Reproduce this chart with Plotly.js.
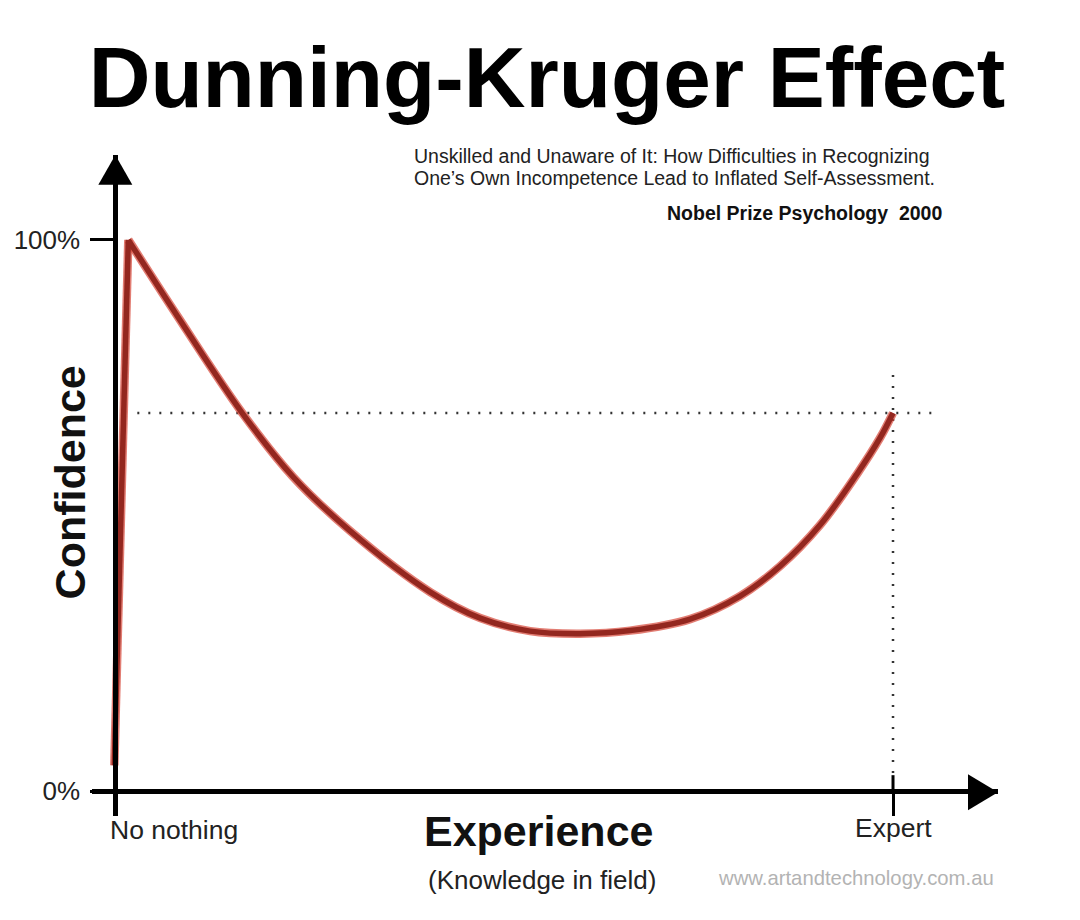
<!DOCTYPE html>
<html>
<head>
<meta charset="utf-8">
<script src="https://cdn.plot.ly/plotly-3.0.1.min.js"></script>
<style>html,body{margin:0;padding:0;background:#fff;}#chart{width:1080px;height:920px;}</style>
</head>
<body>
<div id="chart"></div>
<script>
// ---- data ----
const experience = [-0.13, 1.67, 7.97, 16.32, 22.88, 30.21, 40.49, 46.92, 53.34, 59.77, 66.2, 73.91, 80.33, 85.48, 90.62, 95.37, 98.33, 100];
const confidence = [4.7, 100, 86.21, 68.6, 56.99, 47.19, 36.12, 31.4, 29.04, 28.58, 29.13, 31.22, 35.39, 40.83, 48.28, 57.53, 64.07, 68.6];
const yTickVals = [0, 100];
const yTickText = ['0%', '100%'];
const xTickVals = [0, 100];
const xTickText = ['No nothing', 'Expert'];

// ---- layout geometry ----
const W = 1080, H = 920;
const xRange = [-3, 113.5], yRange = [-4.5, 115.4];
const pxX = 7.78, pxY = 5.51;
const L = 115 + xRange[0] * pxX;            // left edge of plot area
const PW = (xRange[1] - xRange[0]) * pxX;   // plot width
const B = 791 - yRange[0] * pxY;            // bottom edge of plot area
const PH = (yRange[1] - yRange[0]) * pxY;   // plot height
const T = B - PH;
const paperX = px => (px - L) / PW;
const paperY = py => (B - py) / PH;
const dataX = px => (px - 115) / pxX;
const dataY = py => (791 - py) / pxY;

const FONT = 'Liberation Sans, Arial, Helvetica, sans-serif';
const expertIdx = experience.length - 1;
const expertX = experience[expertIdx];
const expertY = confidence[expertIdx];

const leftX = experience.slice(0, 2), leftY = confidence.slice(0, 2);
const rightX = experience.slice(1), rightY = confidence.slice(1);

const halo = 'rgba(214,70,56,0.7)';
const core = '#93271f';

const traces = [
  {x: leftX, y: leftY, mode: 'lines', line: {color: halo, width: 8.5}, hoverinfo: 'skip'},
  {x: rightX, y: rightY, mode: 'lines', line: {color: halo, width: 8.5, shape: 'spline', smoothing: 1}, hoverinfo: 'skip'},
  {x: leftX, y: leftY, mode: 'lines', line: {color: core, width: 5.5}},
  {x: rightX, y: rightY, mode: 'lines', line: {color: core, width: 5.5, shape: 'spline', smoothing: 1}}
];

const shapes = [
  // horizontal dotted reference at expert confidence
  {type: 'line', xref: 'x', yref: 'y', x0: dataX(137), x1: dataX(933), y0: expertY, y1: expertY,
   line: {color: '#333', width: 2.5, dash: '2px,9px'}, layer: 'below'},
  // vertical dotted reference at expert
  {type: 'line', xref: 'x', yref: 'y', x0: expertX, x1: expertX, y0: dataY(375), y1: dataY(778),
   line: {color: '#333', width: 2.5, dash: '2px,9px'}, layer: 'below'},
  // upper part of the Expert tick
  {type: 'line', xref: 'x', yref: 'y', x0: expertX, x1: expertX, y0: dataY(775), y1: 0,
   line: {color: '#000', width: 3}},
  // y-axis arrowhead
  {type: 'path', xref: 'x', yref: 'y',
   path: `M ${dataX(98)} ${dataY(185)} L ${dataX(115)} ${yRange[1]} L ${dataX(132)} ${dataY(185)} Z`,
   fillcolor: '#000', line: {width: 0}},
  // x-axis arrowhead
  {type: 'path', xref: 'x', yref: 'y',
   path: `M ${dataX(968)} ${dataY(774)} L ${xRange[1]} ${dataY(792)} L ${dataX(968)} ${dataY(810)} Z`,
   fillcolor: '#000', line: {width: 0}}
];

const annotations = [
  {xref: 'paper', yref: 'paper', x: paperX(412), y: paperY(156), xanchor: 'left', yanchor: 'middle', align: 'left',
   showarrow: false, text: 'Unskilled and Unaware of It: How Difficulties in Recognizing',
   font: {family: FONT, size: 19.5, color: '#222'}},
  {xref: 'paper', yref: 'paper', x: paperX(412), y: paperY(178), xanchor: 'left', yanchor: 'middle', align: 'left',
   showarrow: false, text: 'One\u2019s Own Incompetence Lead to Inflated Self-Assessment.',
   font: {family: FONT, size: 19.5, color: '#222'}},
  {xref: 'paper', yref: 'paper', x: paperX(944), y: paperY(213), xanchor: 'right', yanchor: 'middle',
   showarrow: false, text: '<b>Nobel Prize Psychology  2000</b>',
   font: {family: FONT, size: 19.5, color: '#111'}},
  {xref: 'paper', yref: 'paper', x: paperX(70), y: paperY(482), xanchor: 'center', yanchor: 'middle', textangle: -90,
   showarrow: false, text: '<b>Confidence</b>', font: {family: FONT, size: 43, color: '#111'}},
  {xref: 'paper', yref: 'paper', x: paperX(538), y: paperY(831), xanchor: 'center', yanchor: 'middle',
   showarrow: false, text: '<b>Experience</b>', font: {family: FONT, size: 43, color: '#111'}},
  {xref: 'paper', yref: 'paper', x: paperX(542), y: paperY(880), xanchor: 'center', yanchor: 'middle',
   showarrow: false, text: '(Knowledge in field)', font: {family: FONT, size: 26, color: '#222'}},
  {xref: 'x', yref: 'paper', x: xTickVals[0], y: paperY(830), xanchor: 'left', xshift: -7, yanchor: 'middle',
   showarrow: false, text: xTickText[0], font: {family: FONT, size: 26.5, color: '#222'}},
  {xref: 'x', yref: 'paper', x: xTickVals[1], y: paperY(828), xanchor: 'center', yanchor: 'middle',
   showarrow: false, text: xTickText[1], font: {family: FONT, size: 26.5, color: '#222'}},
  {xref: 'paper', yref: 'paper', x: paperX(996), y: paperY(878), xanchor: 'right', yanchor: 'middle',
   showarrow: false, text: 'www.artandtechnology.com.au', font: {family: FONT, size: 20.3, color: '#b3b3b3'}}
];

const layout = {
  width: W, height: H,
  margin: {l: L, r: W - (L + PW), t: T, b: H - B, pad: 0},
  paper_bgcolor: '#fff', plot_bgcolor: '#fff',
  showlegend: false,
  title: {text: '<b>Dunning-Kruger Effect</b>', xref: 'container', yref: 'container',
          x: 547 / W, xanchor: 'center', y: 1 - 77 / H, yanchor: 'middle',
          font: {family: FONT, size: 85.5, color: '#000'}},
  xaxis: {range: xRange, anchor: 'free', position: (0 - yRange[0]) / (yRange[1] - yRange[0]),
          showline: true, linewidth: 5, linecolor: '#000', showgrid: false, zeroline: false,
          tickmode: 'array', tickvals: xTickVals, ticktext: xTickText, showticklabels: false,
          ticks: 'outside', ticklen: 22, tickwidth: 3, tickcolor: '#000', fixedrange: true},
  yaxis: {range: yRange, anchor: 'free', position: (0 - xRange[0]) / (xRange[1] - xRange[0]),
          showline: true, linewidth: 5, linecolor: '#000', showgrid: false, zeroline: false,
          tickmode: 'array', tickvals: yTickVals, ticktext: yTickText,
          ticks: 'outside', ticklen: 23, tickwidth: 3, tickcolor: '#000', ticklabelstandoff: 5,
          tickfont: {family: FONT, size: 26, color: '#222'}, fixedrange: true},
  shapes: shapes,
  annotations: annotations
};

Plotly.newPlot('chart', traces, layout, {displayModeBar: false, staticPlot: true});
</script>
</body>
</html>
